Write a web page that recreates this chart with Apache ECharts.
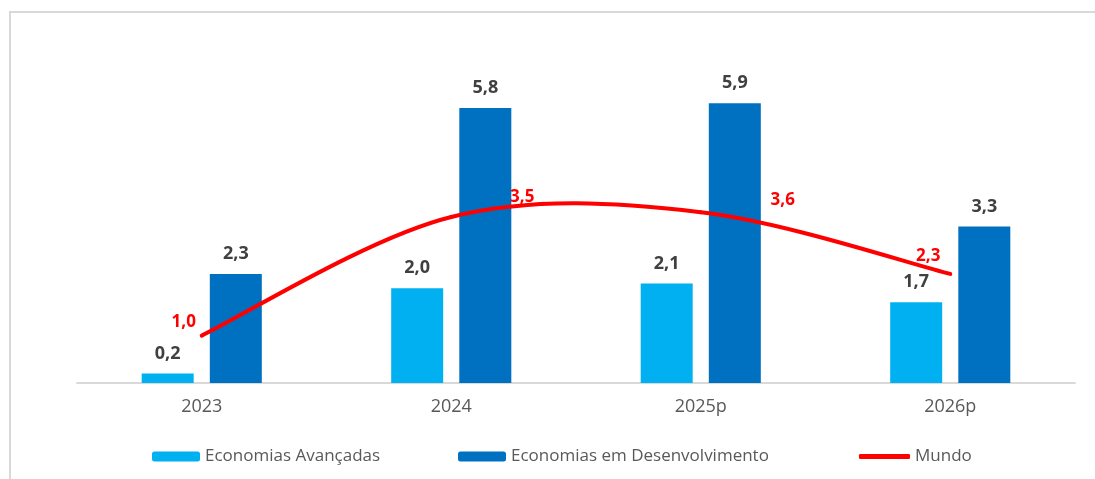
<!DOCTYPE html>
<html>
<head>
<meta charset="utf-8">
<script src="https://cdn.jsdelivr.net/npm/echarts@6/dist/echarts.min.js"></script>
<style>
  html, body { margin: 0; padding: 0; background: #fff; overflow: hidden; }
  #frame { position: absolute; left: 9px; top: 11px; width: 1200px; height: 600px;
           border-left: 2px solid #d9d9d9; border-top: 2px solid #d9d9d9; }
  #chart { position: absolute; left: 0; top: 0; width: 1095px; height: 479px; }
</style>
</head>
<body>
<div id="frame"></div>
<div id="chart"></div>
<script>
// dados do gráfico
var anos = ['2023', '2024', '2025p', '2026p'];
var avancadas = [0.2, 2.0, 2.1, 1.7];
var desenvolvimento = [2.3, 5.8, 5.9, 3.3];
var mundo = [1.0, 3.5, 3.6, 2.3];
// deslocamento dos rótulos da linha (posição manual como no original)
var mundoLabelOffset = [[-18, -13], [71, -20], [82, -12], [-22, -18]];

var fmt = function (v) { return v.toFixed(1).replace('.', ','); };

var legendText = { color: '#595959', fontSize: 17 };

var chartDom = document.getElementById('chart');
var myChart = echarts.init(chartDom);
var option = {
  animation: false,
  textStyle: { fontFamily: 'Open Sans' },
  grid: { left: 77, right: 20, top: 51, bottom: 96 },
  legend: [
    { top: 443, left: 147, itemWidth: 48, itemHeight: 10, textStyle: legendText,
      data: ['Economias Avançadas'] },
    { top: 443, left: 453, itemWidth: 48, itemHeight: 10, textStyle: legendText,
      data: ['Economias em Desenvolvimento'] },
    { top: 443, left: 854, itemWidth: 51, itemHeight: 5, textStyle: legendText,
      data: [{ name: 'Mundo', icon: 'roundRect', itemStyle: { color: '#ff0000' } }] }
  ],
  xAxis: {
    type: 'category',
    data: anos,
    axisTick: { show: false },
    axisLine: { lineStyle: { color: '#d9d9d9', width: 2 } },
    axisLabel: { color: '#595959', fontSize: 18, margin: 15 }
  },
  yAxis: {
    type: 'value',
    min: 0,
    max: 7,
    show: false,
    splitLine: { show: false }
  },
  series: [
    {
      name: 'Economias Avançadas',
      type: 'bar',
      barWidth: 52,
      barGap: '31%',
      itemStyle: { color: '#00b0f0' },
      label: {
        show: true, position: 'top', distance: 11,
        color: '#404040', fontWeight: 'bold', fontSize: 18,
        formatter: function (p) { return fmt(p.value); }
      },
      data: avancadas
    },
    {
      name: 'Economias em Desenvolvimento',
      type: 'bar',
      barWidth: 52,
      itemStyle: { color: '#0070c0' },
      label: {
        show: true, position: 'top', distance: 11,
        color: '#404040', fontWeight: 'bold', fontSize: 18,
        formatter: function (p) { return fmt(p.value); }
      },
      data: desenvolvimento
    },
    {
      // linha suavizada estilo Excel (Catmull-Rom), desenhada segmento a segmento
      name: 'Mundo',
      type: 'custom',
      z: 5,
      itemStyle: { color: '#ff0000' },
      encode: { x: 0, y: 1 },
      data: mundo.map(function (v, k) { return [k, v]; }),
      renderItem: function (params, api) {
        var i = params.dataIndex;
        var n = mundo.length;
        var pts = mundo.map(function (v, k) { return api.coord([k, v]); });
        var children = [];
        if (i < n - 1) {
          var p0 = pts[Math.max(i - 1, 0)];
          var p1 = pts[i];
          var p2 = pts[i + 1];
          var p3 = pts[Math.min(i + 2, n - 1)];
          children.push({
            type: 'bezierCurve',
            shape: {
              x1: p1[0], y1: p1[1], x2: p2[0], y2: p2[1],
              cpx1: p1[0] + (p2[0] - p0[0]) / 6, cpy1: p1[1] + (p2[1] - p0[1]) / 6,
              cpx2: p2[0] - (p3[0] - p1[0]) / 6, cpy2: p2[1] - (p3[1] - p1[1]) / 6
            },
            style: { stroke: '#ff0000', lineWidth: 4, fill: null, lineCap: 'round' }
          });
        }
        var off = mundoLabelOffset[i];
        children.push({
          type: 'text',
          z2: 10,
          x: pts[i][0] + off[0],
          y: pts[i][1] + off[1],
          style: {
            text: fmt(mundo[i]),
            fill: '#ff0000',
            font: 'bold 17px "Open Sans"',
            align: 'center',
            verticalAlign: 'middle'
          }
        });
        return { type: 'group', children: children };
      }
    }
  ]
};
myChart.setOption(option);
</script>
</body>
</html>
